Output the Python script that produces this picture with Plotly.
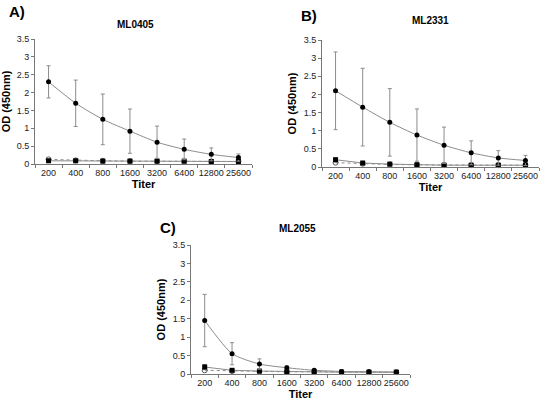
import plotly.graph_objects as go

titers = ["200", "400", "800", "1600", "3200", "6400", "12800", "25600"]

# Panel A - ML0405
a_main = [2.30, 1.70, 1.25, 0.92, 0.61, 0.41, 0.27, 0.18]
a_main_err = [0.45, 0.65, 0.71, 0.62, 0.45, 0.29, 0.18, 0.10]
a_sq = [0.09, 0.09, 0.08, 0.08, 0.08, 0.08, 0.07, 0.07]
a_open = [0.13, 0.10, 0.09, 0.08, 0.08, 0.07, 0.07, 0.07]

# Panel B - ML2331
b_main = [2.10, 1.65, 1.23, 0.88, 0.60, 0.39, 0.25, 0.18]
b_main_err = [1.07, 1.07, 0.93, 0.72, 0.50, 0.33, 0.20, 0.14]
b_sq = [0.20, 0.11, 0.08, 0.06, 0.05, 0.05, 0.05, 0.05]
b_sq_err = [0.06, 0.03, 0.02, 0.01, 0.01, 0.01, 0.01, 0.01]
b_open = [0.12, 0.09, 0.07, 0.06, 0.05, 0.05, 0.05, 0.05]

# Panel C - ML2055
c_main = [1.45, 0.55, 0.27, 0.17, 0.10, 0.07, 0.06, 0.05]
c_main_err = [0.71, 0.30, 0.14, 0.05, 0.03, 0.02, 0.02, 0.02]
c_sq = [0.19, 0.10, 0.08, 0.06, 0.06, 0.05, 0.05, 0.05]
c_sq_err = [0.07, 0.03, 0.02, 0.01, 0.01, 0.01, 0.01, 0.01]
c_open = [0.10, 0.08, 0.07, 0.06, 0.06, 0.05, 0.05, 0.05]

# (letter, title, data..., plot x-range px, plot y-range px, title pos px, letter pos px)
panels = [
    ("A)", "ML0405", a_main, a_main_err, a_sq, None, a_open,
     (35, 252), (39, 164), (135, 25), (7, 12)),
    ("B)", "ML2331", b_main, b_main_err, b_sq, b_sq_err, b_open,
     (322, 539), (40, 167), (430, 21), (299, 15)),
    ("C)", "ML2055", c_main, c_main_err, c_sq, c_sq_err, c_open,
     (191, 410), (245, 374), (297, 228), (158, 227)),
]

W, H = 544, 406
FONT = "Liberation Sans, Arial, sans-serif"
LINE = "#8c8c8c"

fig = go.Figure()
layout = dict(
    width=W, height=H, margin=dict(l=0, r=0, t=0, b=0),
    paper_bgcolor="white", plot_bgcolor="white", showlegend=False,
    font=dict(family=FONT, color="black"),
)
annotations = []

for i, (letter, title, main, main_err, sq, sq_err, opn, (x0, x1), (y0, y1),
        (tx, ty), (lx, ly)) in enumerate(panels):
    n = "" if i == 0 else str(i + 1)
    xa, ya = "x" + n, "y" + n
    # open markers, dotted line
    fig.add_trace(go.Scatter(
        x=titers, y=opn, xaxis=xa, yaxis=ya, mode="lines+markers",
        line=dict(color=LINE, width=1, dash="dot"),
        marker=dict(symbol="circle-open", size=5, color="#555555", line=dict(width=1)),
        cliponaxis=False))
    # filled squares
    fig.add_trace(go.Scatter(
        x=titers, y=sq, xaxis=xa, yaxis=ya, mode="lines+markers",
        line=dict(color=LINE, width=1),
        marker=dict(symbol="square", size=5, color="black"),
        error_y=(dict(type="data", array=sq_err, color=LINE, thickness=1, width=2)
                 if sq_err else None),
        cliponaxis=False))
    # main series
    fig.add_trace(go.Scatter(
        x=titers, y=main, xaxis=xa, yaxis=ya, mode="lines+markers",
        line=dict(color=LINE, width=1, shape="spline", smoothing=0.6),
        marker=dict(symbol="circle", size=5, color="black"),
        error_y=dict(type="data", array=main_err, color=LINE, thickness=1, width=2),
        cliponaxis=False))

    layout["xaxis" + n] = dict(
        domain=[x0 / W, x1 / W], anchor=ya, type="category", automargin=False,
        range=[-0.5, 7.5], showline=True, linecolor="#777777", linewidth=1,
        ticks="outside", tickson="boundaries", ticklen=3, tickcolor="#777777",
        tickangle=0,
        showgrid=False, zeroline=False,
        tickfont=dict(size=9, family=FONT, color="#222222"),
        title=dict(text="<b>Titer</b>", font=dict(size=11, family=FONT, color="black"),
                   standoff=1),
    )
    layout["yaxis" + n] = dict(
        domain=[1 - y1 / H, 1 - y0 / H], anchor=xa, range=[0, 3.5], automargin=False,
        tickvals=[0, 0.5, 1, 1.5, 2, 2.5, 3, 3.5],
        ticktext=["0", "0.5", "1", "1.5", "2", "2.5", "3", "3.5"],
        showline=True, linecolor="#777777", linewidth=1,
        ticks="outside", ticklen=3, tickcolor="#777777",
        showgrid=False, zeroline=False,
        tickfont=dict(size=9, family=FONT, color="#222222"),
        title=dict(text="<b>OD (450nm)</b>", font=dict(size=11, family=FONT, color="black"),
                   standoff=4),
    )
    annotations.append(dict(
        text="<b>" + title + "</b>", x=tx / W, y=1 - ty / H,
        xref="paper", yref="paper", showarrow=False,
        font=dict(size=10, family=FONT), xanchor="center", yanchor="middle"))
    annotations.append(dict(
        text="<b>" + letter + "</b>", x=lx / W, y=1 - ly / H,
        xref="paper", yref="paper", showarrow=False,
        font=dict(size=15, family=FONT), xanchor="left", yanchor="middle"))

layout["annotations"] = annotations
fig.update_layout(**layout)
fig.write_html("out.html", config={"displayModeBar": False},
               post_script="document.body.style.margin='0';document.body.style.overflow='hidden';")
